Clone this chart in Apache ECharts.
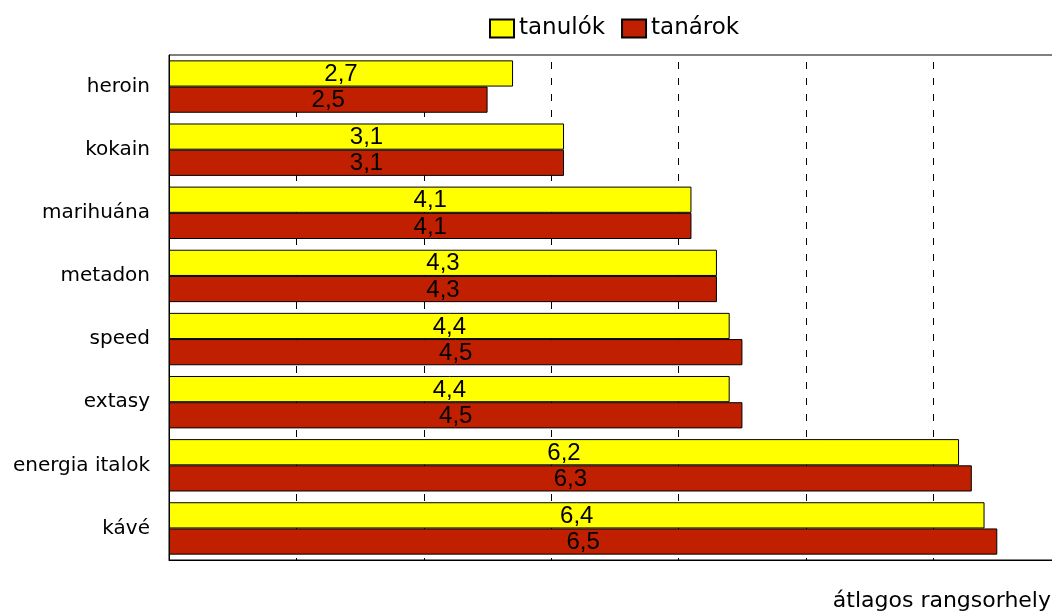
<!DOCTYPE html>
<html>
<head>
<meta charset="utf-8">
<script src="https://cdn.jsdelivr.net/npm/echarts@6/dist/echarts.min.js"></script>
<style>
html,body{margin:0;padding:0;background:#fff;width:1052px;height:615px;overflow:hidden;}
#chart{width:1061px;height:615px;}
</style>
</head>
<body>
<div id="chart"></div>
<script>
const categories = ['heroin', 'kokain', 'marihuána', 'metadon', 'speed', 'extasy', 'energia italok', 'kávé'];
const seriesNames = ['tanulók', 'tanárok'];
const tanulok = [2.7, 3.1, 4.1, 4.3, 4.4, 4.4, 6.2, 6.4];
const tanarok = [2.5, 3.1, 4.1, 4.3, 4.5, 4.5, 6.3, 6.5];
const axisName = 'átlagos rangsorhely';

const FONT = 'DejaVu Sans';
const FONT2 = 'Liberation Sans';
const chart = echarts.init(document.getElementById('chart'), null, {renderer: 'canvas'});

function fmt(v) { return v.toFixed(1).replace('.', ','); }

const label = {
  show: true,
  position: 'inside',
  color: '#000',
  fontFamily: FONT2,
  fontSize: 24,
  offset: [0, 1],
  formatter: p => fmt(p.value)
};

chart.setOption({
  animation: false,
  backgroundColor: '#fff',
  title: {
    text: axisName,
    right: 5,
    top: 585,
    textStyle: {fontFamily: FONT, fontSize: 22, fontWeight: 'normal', color: '#000'}
  },
  legend: {
    data: seriesNames,
    left: 484,
    top: 12,
    itemWidth: 24,
    itemHeight: 18,
    itemGap: 16,
    icon: 'rect',
    textStyle: {fontFamily: FONT, fontSize: 23, color: '#000'}
  },
  grid: {
    left: 169,
    right: 0,
    top: 55,
    bottom: 55,
    show: true,
    borderColor: '#000',
    borderWidth: 1,
    containLabel: false
  },
  xAxis: {
    type: 'value',
    min: 0,
    max: 7,
    interval: 1,
    axisLabel: {show: false},
    axisLine: {show: true, lineStyle: {color: '#000', width: 1}},
    axisTick: {show: false},
    splitLine: {show: true, lineStyle: {color: '#000', width: 1, type: [7, 9], dashOffset: 9}}
  },
  yAxis: {
    type: 'category',
    data: categories,
    inverse: true,
    axisLine: {show: true, lineStyle: {color: '#000', width: 1}},
    axisTick: {show: false},
    axisLabel: {fontFamily: FONT, fontSize: 20, color: '#000', margin: 19}
  },
  series: [
    {
      name: seriesNames[0],
      type: 'bar',
      data: tanulok,
      barGap: '0%',
      barCategoryGap: '17%',
      itemStyle: {color: '#FFFF00', borderColor: '#000', borderWidth: 1},
      label: label
    },
    {
      name: seriesNames[1],
      type: 'bar',
      data: tanarok,
      barGap: '0%',
      barCategoryGap: '17%',
      itemStyle: {color: '#C02000', borderColor: '#000', borderWidth: 1},
      label: label
    }
  ]
});
</script>
</body>
</html>
